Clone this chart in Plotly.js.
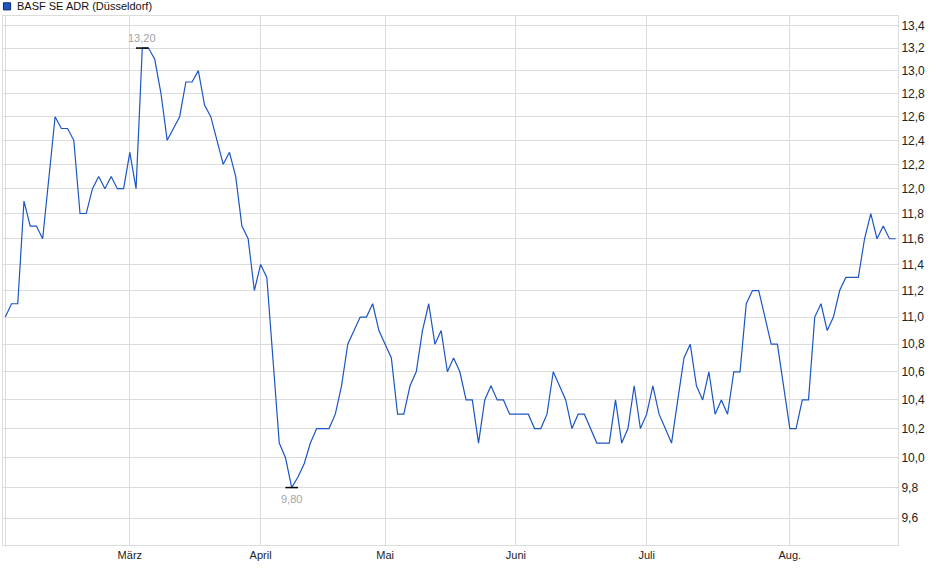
<!DOCTYPE html>
<html>
<head>
<meta charset="utf-8">
<script src="https://cdn.plot.ly/plotly-3.0.1.min.js"></script>
<style>
  body { margin: 0; background: #fff; }
  #chartContainer { width: 940px; height: 579px; }
</style>
</head>
<body>
<div id="chartContainer"></div>
<script>
// BASF SE ADR, Düsseldorf, daily closing prices (one value per trading day)
var prices = [
  11.0, 11.1, 11.1, 11.9, 11.7, 11.7, 11.6, 12.1, 12.6, 12.5,
  12.5, 12.4, 11.8, 11.8, 12.0, 12.1, 12.0, 12.1, 12.0, 12.0,
  12.3, 12.0, 13.2, 13.2, 13.1, 12.8, 12.4, 12.5, 12.6, 12.9,
  12.9, 13.0, 12.7, 12.6, 12.4, 12.2, 12.3, 12.1, 11.7, 11.6,
  11.2, 11.4, 11.3, 10.7, 10.1, 10.0, 9.8, 9.87, 9.96, 10.1,
  10.2, 10.2, 10.2, 10.3, 10.5, 10.8, 10.9, 11.0, 11.0, 11.1,
  10.9, 10.8, 10.7, 10.3, 10.3, 10.5, 10.6, 10.9, 11.1, 10.8,
  10.9, 10.6, 10.7, 10.6, 10.4, 10.4, 10.1, 10.4, 10.5, 10.4,
  10.4, 10.3, 10.3, 10.3, 10.3, 10.2, 10.2, 10.3, 10.6, 10.5,
  10.4, 10.2, 10.3, 10.3, 10.2, 10.1, 10.1, 10.1, 10.4, 10.1,
  10.2, 10.5, 10.2, 10.3, 10.5, 10.3, 10.2, 10.1, 10.4, 10.7,
  10.8, 10.5, 10.4, 10.6, 10.3, 10.4, 10.3, 10.6, 10.6, 11.1,
  11.2, 11.2, 11.0, 10.8, 10.8, 10.5, 10.2, 10.2, 10.4, 10.4,
  11.0, 11.1, 10.9, 11.0, 11.2, 11.3, 11.3, 11.3, 11.6, 11.8,
  11.6, 11.7, 11.6, 11.6
];

// trading-day index of the first session of each month
var monthIdx = [0, 20, 41, 61, 82, 103, 126];
var monthLabels = ['', 'März', 'April', 'Mai', 'Juni', 'Juli', 'Aug.'];

var priceTicks = [9.6, 9.8, 10.0, 10.2, 10.4, 10.6, 10.8, 11.0, 11.2, 11.4,
                  11.6, 11.8, 12.0, 12.2, 12.4, 12.6, 12.8, 13.0, 13.2, 13.4];

var days = prices.map(function(p, i){ return i; });

var hi = Math.max.apply(null, prices);
var lo = Math.min.apply(null, prices);
var hiIdx = prices.indexOf(hi);
var loIdx = prices.indexOf(lo);

function fmt(v){ return v.toFixed(2).replace('.', ','); }

var trace1 = {
  x: days,
  y: prices,
  name: 'BASF SE ADR (Düsseldorf)',
  type: 'scatter',
  mode: 'lines',
  line: { color: '#1c56c4', width: 1.2 },
  hoverinfo: 'skip'
};

// high / low markers
var trace2 = {
  x: [hiIdx, loIdx],
  y: [hi, lo],
  type: 'scatter',
  mode: 'markers',
  marker: { symbol: 'line-ew', size: 9, line: { color: '#000', width: 1.5 } },
  hoverinfo: 'skip'
};

var data = [trace1, trace2];

var labelFont = { family: 'Liberation Sans, Arial, sans-serif', size: 11, color: '#a3a3a3' };

var layout = {
  width: 940,
  height: 579,
  margin: { l: 3, r: 42, t: 16, b: 34 },
  paper_bgcolor: '#fff',
  plot_bgcolor: '#fff',
  showlegend: false,
  font: { family: 'Liberation Sans, Arial, sans-serif', size: 12, color: '#222' },
  xaxis: {
    range: [-0.37, 143.37],
    tickvals: monthIdx,
    ticktext: monthLabels,
    showgrid: true,
    gridcolor: '#dcdcdc',
    gridwidth: 1,
    zeroline: false,
    showline: true,
    linecolor: '#dcdcdc',
    mirror: true,
    ticks: '',
    tickfont: { size: 11, color: '#222' }
  },
  yaxis: {
    type: 'log',
    side: 'right',
    range: [Math.log10(9.426), Math.log10(13.49)],
    tickvals: priceTicks,
    tickformat: '.1f',
    showgrid: true,
    gridcolor: '#dcdcdc',
    gridwidth: 1,
    zeroline: false,
    showline: true,
    linecolor: '#dcdcdc',
    mirror: true,
    ticks: '',
    tickfont: { size: 12, color: '#222' }
  },
  separators: ',.',
  shapes: [
    { type: 'rect', xref: 'paper', yref: 'paper',
      x0: 0.0005, x1: 0.0085, y0: 1.0115, y1: 1.0250,
      fillcolor: '#1c56c4', line: { color: '#0a2a6a', width: 1 } }
  ],
  annotations: [
    { xref: 'paper', yref: 'paper', x: 0.0135, y: 1.018,
      xanchor: 'left', yanchor: 'middle', showarrow: false,
      text: 'BASF SE ADR (Düsseldorf)',
      font: { size: 11, color: '#111' } },
    { x: hiIdx, y: Math.log10(hi), xanchor: 'center', yanchor: 'bottom',
      yshift: 2, showarrow: false, text: fmt(hi), font: labelFont },
    { x: loIdx, y: Math.log10(lo), xanchor: 'center', yanchor: 'top',
      yshift: -3, showarrow: false, text: fmt(lo), font: labelFont }
  ]
};

Plotly.newPlot('chartContainer', data, layout, { displayModeBar: false, staticPlot: true });
</script>
</body>
</html>
